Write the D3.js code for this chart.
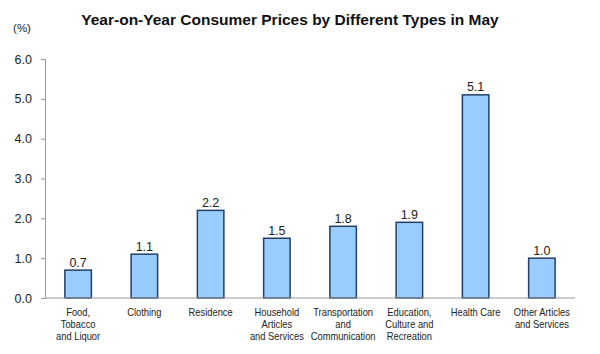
<!DOCTYPE html>
<html>
<head>
<meta charset="utf-8">
<script src="https://cdn.jsdelivr.net/npm/d3@7"></script>
<style>
  body { margin: 0; background: #fff; }
  svg { display: block; }
</style>
</head>
<body>
<svg id="chart" width="600" height="354"></svg>
<script>
// categories (lines of each label) and values
const categories = [
  ["Food,", "Tobacco", "and Liquor"],
  ["Clothing"],
  ["Residence"],
  ["Household", "Articles", "and Services"],
  ["Transportation", "and", "Communication"],
  ["Education,", "Culture and", "Recreation"],
  ["Health Care"],
  ["Other Articles", "and Services"]
]
const values = [0.7, 1.1, 2.2, 1.5, 1.8, 1.9, 5.1, 1.0]
const yTicks = [0, 1, 2, 3, 4, 5, 6]

const svg = d3.select('#chart')
const plotLeft = 45, plotRight = 575, plotTop = 59, plotBottom = 298

const x = d3.scaleBand()
    .domain(d3.range(values.length))
    .range([plotLeft, plotRight])
    .paddingInner(0.6)
    .paddingOuter(0.3)
const y = d3.scaleLinear().domain([0, 6]).range([plotBottom, plotTop])

// title
svg.append('text')
    .attr('x', 290).attr('y', 25)
    .attr('text-anchor', 'middle')
    .attr('font-family', 'Liberation Sans, Arial, sans-serif')
    .attr('font-size', 15.5)
    .attr('font-weight', 'bold')
    .attr('fill', '#111')
    .text('Year-on-Year Consumer Prices by Different Types in May')

svg.append('text')
    .attr('x', 22).attr('y', 32)
    .attr('text-anchor', 'middle')
    .attr('font-family', 'Liberation Sans, Arial, sans-serif')
    .attr('font-size', 11.5)
    .attr('fill', '#222')
    .text('(%)')

// y axis
const yAxis = svg.append('g')
    .attr('transform', `translate(${plotLeft},0)`)
    .call(d3.axisLeft(y).tickValues(yTicks).tickSize(4).tickPadding(9).tickFormat(d3.format('.1f')))
yAxis.select('.domain').attr('stroke', '#999')
yAxis.selectAll('.tick line').attr('stroke', '#999')
yAxis.selectAll('text')
    .attr('font-family', 'Liberation Sans, Arial, sans-serif')
    .attr('font-size', 12.5)
    .attr('fill', '#222')

// bars
svg.append('g').selectAll('rect')
    .data(values)
    .join('rect')
    .attr('x', (d, i) => x(i))
    .attr('y', d => y(d))
    .attr('width', x.bandwidth())
    .attr('height', d => y(0) - y(d))
    .attr('fill', '#99ccff')
    .attr('stroke', '#243f66')
    .attr('stroke-width', 1.5)

// x axis line
svg.append('line')
    .attr('x1', plotLeft).attr('x2', plotRight)
    .attr('y1', plotBottom).attr('y2', plotBottom)
    .attr('stroke', '#999')

// value labels
svg.append('g').selectAll('text')
    .data(values)
    .join('text')
    .attr('x', (d, i) => x(i) + x.bandwidth() / 2)
    .attr('y', d => y(d) - 3.5)
    .attr('text-anchor', 'middle')
    .attr('font-family', 'Liberation Sans, Arial, sans-serif')
    .attr('font-size', 12.5)
    .attr('fill', '#222')
    .text(d => d3.format('.1f')(d))

// category labels, squeezed horizontally like the original
const catG = svg.append('g').selectAll('text')
    .data(categories)
    .join('text')
    .attr('transform', (d, i) => `translate(${x(i) + x.bandwidth() / 2},0) scale(0.89,1)`)
    .attr('text-anchor', 'middle')
    .attr('font-family', 'Liberation Sans, Arial, sans-serif')
    .attr('font-size', 10.5)
    .attr('fill', '#222')
catG.selectAll('tspan')
    .data(d => d)
    .join('tspan')
    .attr('x', 0)
    .attr('y', (d, j) => 316 + j * 12.2)
    .text(d => d)
</script>
</body>
</html>
